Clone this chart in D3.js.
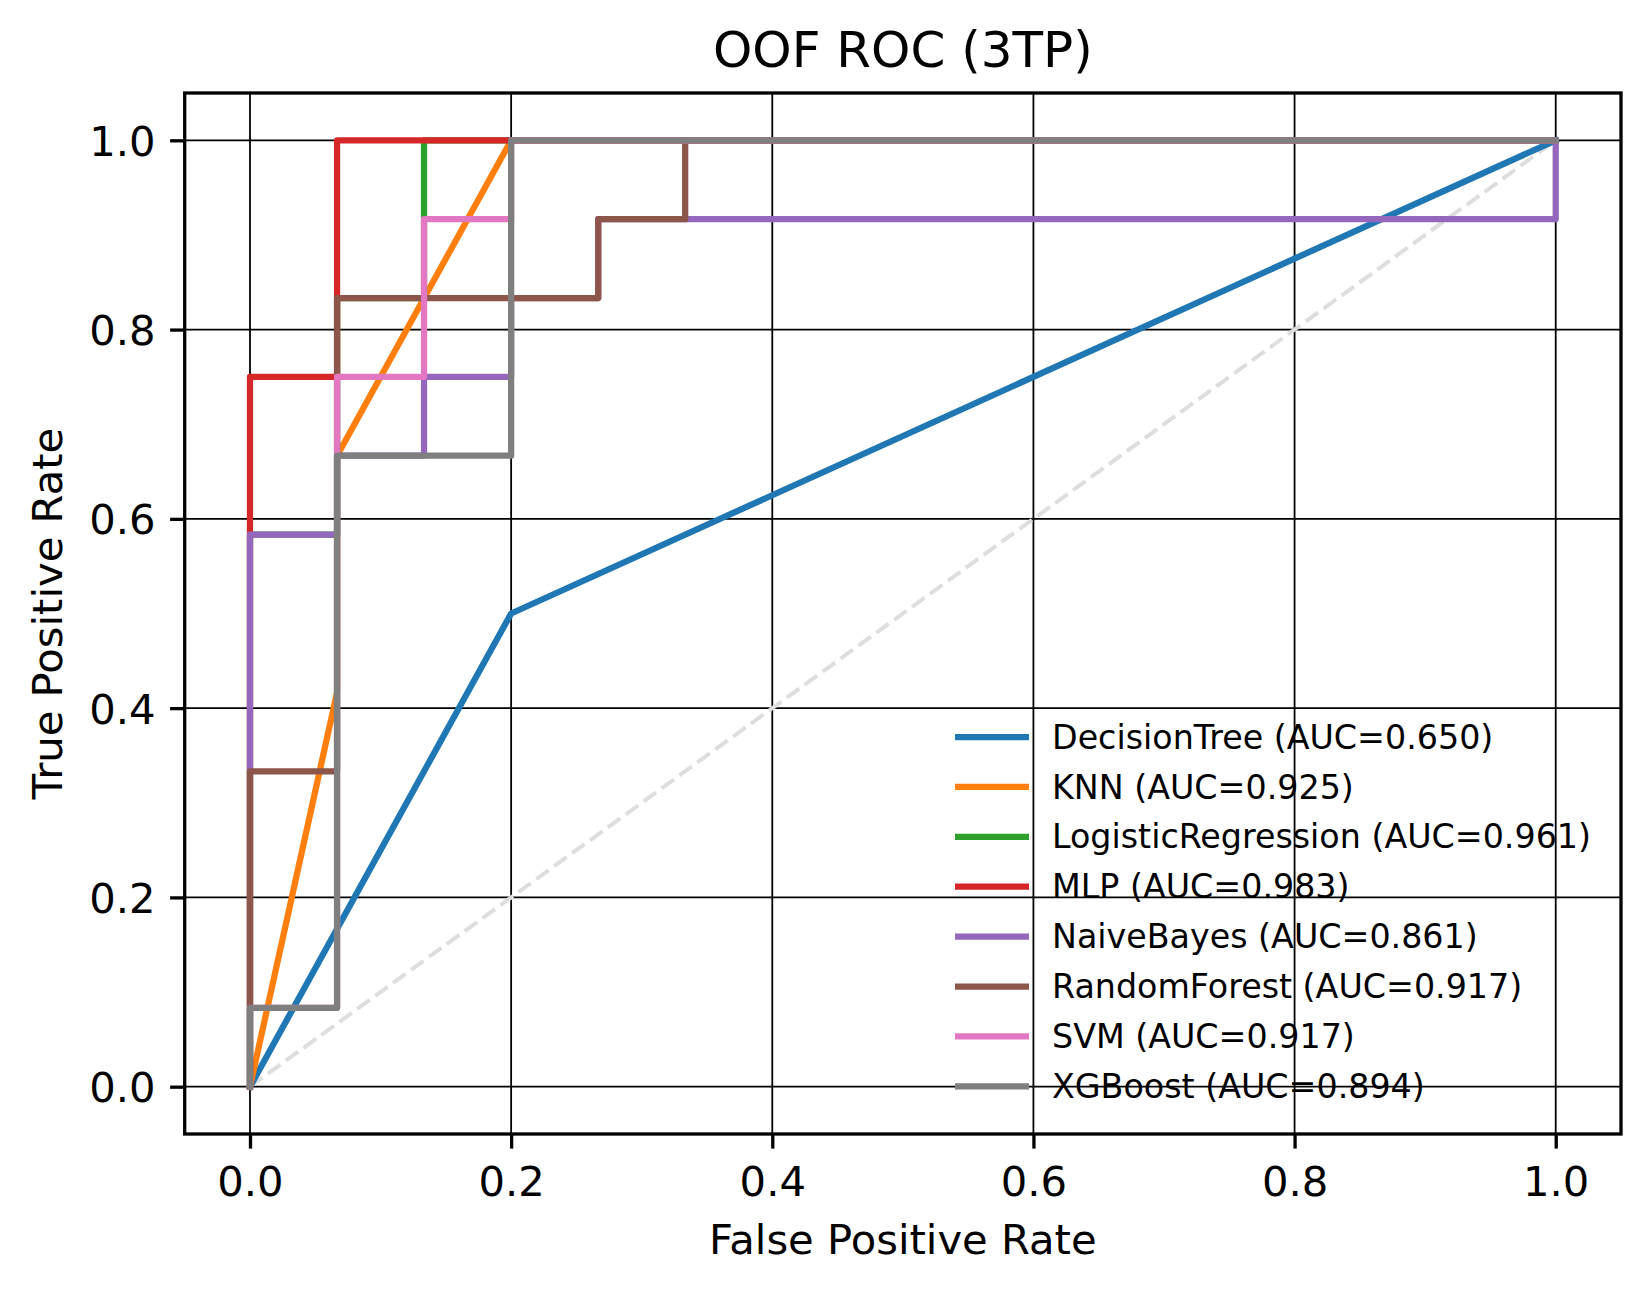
<!DOCTYPE html>
<html>
<head>
<meta charset="utf-8">
<script src="https://cdn.jsdelivr.net/npm/d3@7"></script>
<style>
  body { margin: 0; background: #fff; }
  svg { display: block; font-family: "DejaVu Sans", sans-serif; }
</style>
</head>
<body>
<svg id="chart" width="1651" height="1293"></svg>
<script>
// values
const modelNames = ['DecisionTree', 'KNN', 'LogisticRegression', 'MLP', 'NaiveBayes', 'RandomForest', 'SVM', 'XGBoost'];
const aucValues = [0.650, 0.925, 0.961, 0.983, 0.861, 0.917, 0.917, 0.894];

const dtFpr = [0, 0.2, 1];
const dtTpr = [0, 0.5, 1];
const knnFpr = [0, 0.0667, 0.0667, 0.2, 1];
const knnTpr = [0, 0.4167, 0.6667, 1, 1];
const lrFpr = [0, 0, 0.0667, 0.0667, 0.1333, 0.1333, 1];
const lrTpr = [0, 0.5833, 0.5833, 0.8333, 0.8333, 1, 1];
const mlpFpr = [0, 0, 0.0667, 0.0667, 1];
const mlpTpr = [0, 0.75, 0.75, 1, 1];
const nbFpr = [0, 0, 0.0667, 0.0667, 0.1333, 0.1333, 0.2, 0.2, 0.2667, 0.2667, 1, 1];
const nbTpr = [0, 0.5833, 0.5833, 0.6667, 0.6667, 0.75, 0.75, 0.8333, 0.8333, 0.9167, 0.9167, 1];
const rfFpr = [0, 0, 0.0667, 0.0667, 0.2667, 0.2667, 0.3333, 0.3333, 1];
const rfTpr = [0, 0.3333, 0.3333, 0.8333, 0.8333, 0.9167, 0.9167, 1, 1];
const svmFpr = [0, 0, 0.0667, 0.0667, 0.1333, 0.1333, 0.2, 0.2, 1];
const svmTpr = [0, 0.0833, 0.0833, 0.75, 0.75, 0.9167, 0.9167, 1, 1];
const xgbFpr = [0, 0, 0.0667, 0.0667, 0.2, 0.2, 1];
const xgbTpr = [0, 0.0833, 0.0833, 0.6667, 0.6667, 1, 1];

const fprList = [dtFpr, knnFpr, lrFpr, mlpFpr, nbFpr, rfFpr, svmFpr, xgbFpr];
const tprList = [dtTpr, knnTpr, lrTpr, mlpTpr, nbTpr, rfTpr, svmTpr, xgbTpr];

const xTicks = [0, 0.2, 0.4, 0.6, 0.8, 1.0];
const yTicks = [0, 0.2, 0.4, 0.6, 0.8, 1.0];

const colors = ['#1f77b4', '#ff7f0e', '#2ca02c', '#d62728', '#9467bd', '#8c564b', '#e377c2', '#7f7f7f'];

const LEFT = 184.7, RIGHT = 1621, TOP = 93, BOTTOM = 1134;

const svg = d3.select('#chart');

const x = d3.scaleLinear().domain([-0.05, 1.05]).range([LEFT, RIGHT]);
const y = d3.scaleLinear().domain([-0.05, 1.05]).range([BOTTOM, TOP]);

// grid
const grid = svg.append('g');
grid.selectAll('line.vx')
  .data(xTicks)
  .join('line')
  .attr('x1', d => x(d)).attr('x2', d => x(d))
  .attr('y1', TOP).attr('y2', BOTTOM)
  .attr('stroke', '#000').attr('stroke-width', 1.8);
grid.selectAll('line.hy')
  .data(yTicks)
  .join('line')
  .attr('class', 'hy')
  .attr('x1', LEFT).attr('x2', RIGHT)
  .attr('y1', d => y(d)).attr('y2', d => y(d))
  .attr('stroke', '#000').attr('stroke-width', 1.8);

// chance diagonal
svg.append('line')
  .attr('x1', x(0)).attr('y1', y(0))
  .attr('x2', x(1)).attr('y2', y(1))
  .attr('stroke', '#dedede')
  .attr('stroke-width', 4)
  .attr('stroke-dasharray', '15.4,6.7');

const line = d3.line().x(d => x(d[0])).y(d => y(d[1]));

modelNames.forEach((name, i) => {
  const pts = d3.zip(fprList[i], tprList[i]);
  svg.append('path')
    .attr('d', line(pts))
    .attr('fill', 'none')
    .attr('stroke', colors[i])
    .attr('stroke-width', 6.25)
    .attr('stroke-linejoin', 'round')
    .attr('stroke-linecap', 'square');
});

// axes
const xAxis = d3.axisBottom(x).tickValues(xTicks).tickFormat(d3.format('.1f'))
  .tickSize(14.6).tickPadding(14.6);
const yAxis = d3.axisLeft(y).tickValues(yTicks).tickFormat(d3.format('.1f'))
  .tickSize(14.6).tickPadding(14.6);

const xG = svg.append('g').attr('transform', `translate(0, ${BOTTOM})`).call(xAxis);
const yG = svg.append('g').attr('transform', `translate(${LEFT}, 0)`).call(yAxis);
[xG, yG].forEach(g => {
  g.select('.domain').remove();
  g.selectAll('.tick line').attr('stroke', '#000').attr('stroke-width', 3.3);
  g.selectAll('.tick text')
    .attr('fill', '#000')
    .style('font-size', '41.7px')
    .style('font-family', '"DejaVu Sans", sans-serif');
});
xG.selectAll('.tick text').attr('dy', null).attr('y', 61.5);
yG.selectAll('.tick text').attr('dy', '0.36em');

// frame
svg.append('rect')
  .attr('x', LEFT).attr('y', TOP)
  .attr('width', RIGHT - LEFT).attr('height', BOTTOM - TOP)
  .attr('fill', 'none')
  .attr('stroke', '#000')
  .attr('stroke-width', 3.3);

// labels
svg.append('text')
  .attr('x', (LEFT + RIGHT) / 2).attr('y', 67)
  .attr('text-anchor', 'middle')
  .style('font-size', '50px')
  .text('OOF ROC (3TP)');

svg.append('text')
  .attr('x', (LEFT + RIGHT) / 2).attr('y', 1254)
  .attr('text-anchor', 'middle')
  .style('font-size', '41.7px')
  .text('False Positive Rate');

svg.append('text')
  .attr('transform', `translate(62, ${(TOP + BOTTOM) / 2}) rotate(-90)`)
  .attr('text-anchor', 'middle')
  .style('font-size', '41.7px')
  .text('True Positive Rate');

// legend, no frame
const legend = svg.append('g');
const LEG_TOP = 737, LEG_STEP = 49.9;
modelNames.forEach((name, i) => {
  const ly = LEG_TOP + i * LEG_STEP;
  legend.append('line')
    .attr('x1', 955).attr('x2', 1029)
    .attr('y1', ly).attr('y2', ly)
    .attr('stroke', colors[i])
    .attr('stroke-width', 6.25);
  legend.append('text')
    .attr('x', 1052).attr('y', ly)
    .attr('dy', '0.35em')
    .style('font-size', '33.3px')
    .text(`${name} (AUC=${aucValues[i].toFixed(3)})`);
});
</script>
</body>
</html>
